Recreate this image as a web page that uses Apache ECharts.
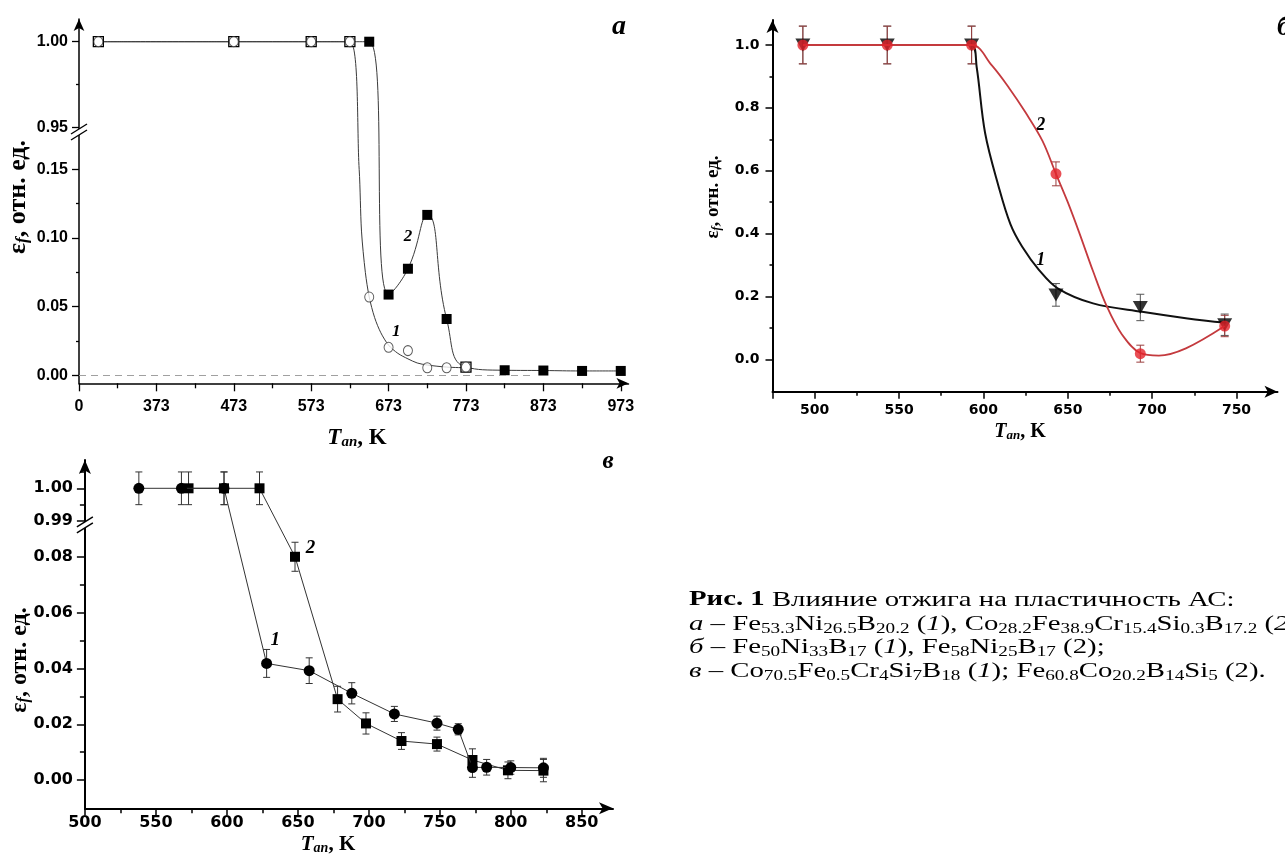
<!DOCTYPE html>
<html>
<head>
<meta charset="utf-8">
<script src="https://cdn.jsdelivr.net/npm/echarts@6.0.0/dist/echarts.min.js"></script>
<style>
html,body{margin:0;padding:0;background:#ffffff;overflow:hidden;}
#chart{width:1285px;height:854px;}
</style>
</head>
<body>
<div id="chart"></div>
<script>
// ---------------- Panel а ----------------
const aTemp1 = [298, 473, 573, 623, 648, 673, 698, 723, 748, 773];
const aVal1  = [1.00, 1.00, 1.00, 1.00, 0.057, 0.0204, 0.018, 0.0055, 0.0055, 0.006];
const aTemp2 = [298, 473, 573, 623, 648, 673, 698, 723, 748, 773, 823, 873, 923, 973];
const aVal2  = [1.00, 1.00, 1.00, 1.00, 1.00, 0.0588, 0.0776, 0.1168, 0.041, 0.006, 0.0037, 0.0035, 0.0032, 0.0032];
// fitted curve 1
const aFit1T = [298, 473, 573, 623, 635, 638, 643, 648, 655, 663, 673, 685, 698, 710, 723, 748, 773];
const aFit1V = [1.00, 1.00, 1.00, 1.00, 0.150, 0.105, 0.075, 0.057, 0.042, 0.031, 0.022, 0.016, 0.012, 0.009, 0.0075, 0.006, 0.0055];
const aXTicks = [273, 373, 473, 573, 673, 773, 873, 973];
const aXTickLabels = ['0', '373', '473', '573', '673', '773', '873', '973'];
const aXMinor = [323, 423, 523, 623, 723, 823, 923];
const aYTicks = [0, 0.05, 0.10, 0.15, 0.95, 1.00];
const aYMinor = [0.025, 0.075, 0.125, 0.975];

// ---------------- Panel б ----------------
const bTemp = [493, 543, 593, 643, 693, 743];
const bVal1 = [1.00, 1.00, 1.00, 0.205, 0.165, 0.110];
const bErr1 = [0.060, 0.060, 0.060, 0.036, 0.042, 0.034];
const bVal2 = [1.00, 1.00, 1.00, 0.590, 0.018, 0.106];
const bErr2 = [0.060, 0.060, 0.060, 0.038, 0.027, 0.034];
// fitted curves
const bFit1T = [493, 543, 593, 596, 601, 609, 616, 623, 633, 644, 665, 694, 721, 744];
const bFit1V = [1.00, 1.00, 1.00, 0.93, 0.72, 0.55, 0.43, 0.358, 0.284, 0.226, 0.178, 0.151, 0.130, 0.116];
const bFit2T = [493, 543, 593, 605, 615, 625, 635, 643, 650, 657, 665, 673, 682, 693, 704, 720, 743];
const bFit2V = [1.00, 1.00, 1.00, 0.935, 0.865, 0.785, 0.695, 0.590, 0.500, 0.400, 0.280, 0.170, 0.080, 0.020, 0.012, 0.035, 0.106];
const bXTicks = [475, 500, 550, 600, 650, 700, 750];
const bXLabels = [500, 550, 600, 650, 700, 750];
const bXMinor = [525, 575, 625, 675, 725];
const bYTicks = [0, 0.2, 0.4, 0.6, 0.8, 1.0];
const bYMinor = [0.1, 0.3, 0.5, 0.7, 0.9];

// ---------------- Panel в ----------------
const cTemp1 = [538, 568, 598, 628, 658, 688, 718, 748, 763, 773, 783, 800, 823];
const cVal1  = [1.00, 1.00, 1.00, 0.0418, 0.0392, 0.0311, 0.0237, 0.0204, 0.0182, 0.0045, 0.0046, 0.0045, 0.0044];
const cErr1  = [0.005, 0.005, 0.005, 0.0050, 0.0046, 0.0038, 0.0027, 0.0025, 0.0020, 0.0035, 0.0028, 0.0024, 0.0034];
const cTemp2 = [573, 598, 623, 648, 678, 698, 723, 748, 773, 798, 823];
const cVal2  = [1.00, 1.00, 1.00, 0.0800, 0.0290, 0.0203, 0.0140, 0.0129, 0.0072, 0.0035, 0.0034];
const cErr2  = [0.005, 0.005, 0.005, 0.0052, 0.0046, 0.0038, 0.0030, 0.0025, 0.0040, 0.0030, 0.0040];
const cXTicks = [500, 550, 600, 650, 700, 750, 800, 850];
const cXMinor = [525, 575, 625, 675, 725, 775, 825];
const cYTicks = [0, 0.02, 0.04, 0.06, 0.08, 0.99, 1.00];
const cYMinor = [0.01, 0.03, 0.05, 0.07, 0.995, 1.005];

// ---------------- Texts ----------------
const yTitleText = '{e|ε}{f|f}{n|, отн. ед.}';
const xTitleText = '{t|T}{s|an}{n|, K}';
const captionLines = [
  '{b|Рис. 1} Влияние отжига на пластичность АС:',
  '{i|а} – Fe{s|53.3}Ni{s|26.5}B{s|20.2} ({i|1}), Co{s|28.2}Fe{s|38.9}Cr{s|15.4}Si{s|0.3}B{s|17.2} ({i|2});',
  '{i|б} – Fe{s|50}Ni{s|33}B{s|17} ({i|1}), Fe{s|58}Ni{s|25}B{s|17} (2);',
  '{i|в} – Co{s|70.5}Fe{s|0.5}Cr{s|4}Si{s|7}B{s|18} ({i|1}); Fe{s|60.8}Co{s|20.2}B{s|14}Si{s|5} (2).'
];

// broken-axis mapping (lower part below lowTop, upper part above upBottom, upper scale stretched by ratio)
const breakA = {lowTop: 0.1735, upBottom: 0.9446, ratio: 1.2524};
const breakC = {lowTop: 0.0914, upBottom: 0.9888, ratio: 1.172};
function fwdOf(b) { return y => y <= b.lowTop ? y : (y >= b.upBottom ? b.lowTop + (y - b.upBottom) * b.ratio : b.lowTop); }
function invOf(b) { return v => v <= b.lowTop ? v : b.upBottom + (v - b.lowTop) / b.ratio; }
const fA = fwdOf(breakA), iA = invOf(breakA);
const fC = fwdOf(breakC), iC = invOf(breakC);
const idf = v => v;

const SANS_A = '"Liberation Sans Narrow", "Arial Narrow", "Liberation Sans", sans-serif';
const SANS = '"DejaVu Sans", sans-serif';
const SERIF = '"Liberation Serif", "Times New Roman", serif';

function axisPair(kind, gi, min, max, ticks, labels, minors, fmt, o) {
  const pos = kind === 'x' ? 'bottom' : 'left';
  const major = {
    type: 'value', gridIndex: gi, min: min, max: max, position: pos,
    axisLine: {show: true, onZero: false, symbol: ['none', 'arrow'], symbolSize: o.arrow,
               lineStyle: {color: '#000', width: o.lw}},
    axisTick: {show: true, customValues: ticks, length: o.tl, lineStyle: {color: '#000', width: o.tw}},
    axisLabel: {show: true, customValues: labels, formatter: fmt, margin: o.margin, color: '#000',
                fontFamily: o.ff, fontSize: o.fs, fontWeight: 'bold'},
    splitLine: {show: false}, minorTick: {show: false}, minorSplitLine: {show: false}
  };
  const minor = {
    type: 'value', gridIndex: gi, min: min, max: max, position: pos,
    axisLine: {show: false, onZero: false},
    axisTick: {show: true, customValues: minors, length: o.ml, lineStyle: {color: '#000', width: o.tw}},
    axisLabel: {show: false}, splitLine: {show: false}
  };
  return [major, minor];
}

function errSeries(xi, yi, temps, vals, errs, fwd, color, cap, z) {
  return {
    type: 'custom', xAxisIndex: xi, yAxisIndex: yi, z: z, clip: true, silent: true,
    data: temps.map((t, i) => [t, fwd(vals[i] + errs[i]), fwd(vals[i] - errs[i])]),
    encode: {x: 0, y: [1, 2]},
    renderItem: (params, api) => {
      const top = api.coord([api.value(0), api.value(1)]);
      const bot = api.coord([api.value(0), api.value(2)]);
      const w = cap / 2;
      const st = {stroke: color, lineWidth: 1};
      return {type: 'group', children: [
        {type: 'line', shape: {x1: top[0], y1: top[1], x2: bot[0], y2: bot[1]}, style: st},
        {type: 'line', shape: {x1: top[0] - w, y1: top[1], x2: top[0] + w, y2: top[1]}, style: st},
        {type: 'line', shape: {x1: bot[0] - w, y1: bot[1], x2: bot[0] + w, y2: bot[1]}, style: st}
      ]};
    }
  };
}

function curveLabel(coord, text, size) {
  return {
    symbol: 'circle', symbolSize: 1, itemStyle: {color: 'rgba(0,0,0,0)'},
    data: [{coord: coord, label: {show: true, position: 'inside', formatter: text, color: '#000',
            fontFamily: SERIF, fontStyle: 'italic', fontWeight: 'bold', fontSize: size}}]
  };
}

const xA = axisPair('x', 0, 273, 983, aXTicks, aXTicks, aXMinor,
  v => aXTickLabels[aXTicks.indexOf(v)],
  {arrow: [8, 12], lw: 1.5, tl: 8, ml: 5, tw: 1.3, margin: 15, ff: SANS_A, fs: 16});
const yA = axisPair('y', 0, -0.0058, fA(1.0132), aYTicks.map(fA), aYTicks.map(fA), aYMinor.map(fA),
  v => iA(v).toFixed(2),
  {arrow: [8, 12], lw: 1.5, tl: 7, ml: 3, tw: 1.3, margin: 11, ff: SANS_A, fs: 16});
const xB = axisPair('x', 1, 475, 774.3, bXTicks, bXLabels, bXMinor,
  v => String(v),
  {arrow: [9, 13], lw: 2, tl: 7, ml: 4, tw: 1.5, margin: 12, ff: SANS, fs: 14});
const yB = axisPair('y', 1, -0.103, 1.0795, bYTicks, bYTicks, bYMinor,
  v => v.toFixed(1),
  {arrow: [9, 13], lw: 2, tl: 7, ml: 3, tw: 1.5, margin: 13, ff: SANS, fs: 14});
const xC = axisPair('x', 2, 500, 872, cXTicks, cXTicks, cXMinor,
  v => String(v),
  {arrow: [9, 14], lw: 2, tl: 7, ml: 5, tw: 1.5, margin: 7, ff: SANS, fs: 16});
const yC = axisPair('y', 2, -0.0101, fC(1.00865), cYTicks.map(fC), cYTicks.map(fC), cYMinor.map(fC),
  v => iC(v).toFixed(2),
  {arrow: [9, 14], lw: 2, tl: 8, ml: 5, tw: 1.5, margin: 12, ff: SANS, fs: 16});

const aSeries2Data = aTemp2.map((t, i) => {
  const j = aTemp1.indexOf(t);
  const hollow = j >= 0 && aVal1[j] === aVal2[i];
  const v = [t, fA(aVal2[i])];
  return hollow ? {value: v, itemStyle: {color: '#fff', borderColor: '#000', borderWidth: 1.3}} : v;
});

const option = {
  animation: false,
  backgroundColor: '#ffffff',
  grid: [
    {left: 79, top: 19, width: 549.5, height: 364.3, outerBoundsMode: 'none', containLabel: false},
    {left: 772.5, top: 20, width: 505, height: 371.7, outerBoundsMode: 'none', containLabel: false},
    {left: 84.9, top: 460, width: 528.1, height: 348.3, outerBoundsMode: 'none', containLabel: false}
  ],
  xAxis: [].concat(xA, xB, xC),
  yAxis: [].concat(yA, yB, yC),
  series: [
    // ----- а -----
    {
      type: 'line', xAxisIndex: 0, yAxisIndex: 0, z: 3, silent: true,
      smooth: 0.5, symbol: 'rect', symbolSize: 10, showAllSymbol: true,
      lineStyle: {color: '#3a3a3a', width: 1}, itemStyle: {color: '#000'},
      data: aSeries2Data,
      markLine: {
        silent: true, symbol: ['none', 'none'], label: {show: false},
        lineStyle: {type: [7, 5], color: '#a0a0a0', width: 1},
        data: [[{coord: [273, 0]}, {coord: [856, 0]}]]
      },
      markPoint: curveLabel([698, fA(0.1007)], '2', 17)
    },
    {
      type: 'line', xAxisIndex: 0, yAxisIndex: 0, z: 3, silent: true,
      smooth: 0.3, symbol: 'none',
      lineStyle: {color: '#3a3a3a', width: 1},
      data: aFit1T.map((t, i) => [t, fA(aFit1V[i])]),
      markPoint: curveLabel([683, fA(0.0315)], '1', 17)
    },
    {
      type: 'scatter', xAxisIndex: 0, yAxisIndex: 0, z: 5, silent: true,
      symbol: 'circle', symbolSize: [9, 10],
      itemStyle: {color: '#fff', borderColor: '#333', borderWidth: 1},
      data: aTemp1.map((t, i) => [t, fA(aVal1[i])])
    },
    // ----- б -----
    errSeries(2, 2, bTemp, bVal1, bErr1, idf, '#555', 8, 2),
    errSeries(2, 2, bTemp, bVal2, bErr2, idf, '#9a3d3d', 8, 2),
    {
      type: 'line', xAxisIndex: 2, yAxisIndex: 2, z: 3, silent: true, smooth: 0.35, symbol: 'none',
      lineStyle: {color: '#111', width: 2},
      data: bFit1T.map((t, i) => [t, bFit1V[i]]),
      markPoint: curveLabel([634, 0.316], '1', 18)
    },
    {
      type: 'scatter', xAxisIndex: 2, yAxisIndex: 2, z: 4, silent: true,
      symbol: 'triangle', symbolRotate: 180, symbolSize: [15, 13], itemStyle: {color: '#000'},
      data: bTemp.map((t, i) => [t, bVal1[i]])
    },
    {
      type: 'line', xAxisIndex: 2, yAxisIndex: 2, z: 5, silent: true, smooth: 0.35, symbol: 'none',
      lineStyle: {color: '#c43a3e', width: 1.8},
      data: bFit2T.map((t, i) => [t, bFit2V[i]]),
      markPoint: curveLabel([634, 0.745], '2', 18)
    },
    {
      type: 'scatter', xAxisIndex: 2, yAxisIndex: 2, z: 6, silent: true,
      symbol: 'circle', symbolSize: 11, itemStyle: {color: '#e4232a'},
      data: bTemp.map((t, i) => [t, bVal2[i]])
    },
    // ----- в -----
    errSeries(4, 4, cTemp1, cVal1, cErr1, fC, '#333', 7, 2),
    errSeries(4, 4, cTemp2, cVal2, cErr2, fC, '#333', 7, 2),
    {
      type: 'line', xAxisIndex: 4, yAxisIndex: 4, z: 3, silent: true,
      symbol: 'rect', symbolSize: 10, showAllSymbol: true,
      lineStyle: {color: '#333', width: 1}, itemStyle: {color: '#000'},
      data: cTemp2.map((t, i) => [t, fC(cVal2[i])]),
      markPoint: curveLabel([659, fC(0.0832)], '2', 19)
    },
    {
      type: 'line', xAxisIndex: 4, yAxisIndex: 4, z: 4, silent: true,
      symbol: 'circle', symbolSize: 11, showAllSymbol: true,
      lineStyle: {color: '#333', width: 1}, itemStyle: {color: '#000'},
      data: cTemp1.map((t, i) => [t, fC(cVal1[i])]),
      markPoint: curveLabel([634, fC(0.0502)], '1', 19)
    }
  ]
};

const chart = echarts.init(document.getElementById('chart'), null, {renderer: 'canvas', width: 1285, height: 854});
chart.setOption(option);

function yTitleRich(fs) {
  return {
    e: {fontFamily: SERIF, fontWeight: 'bold', fontSize: fs, fill: '#000'},
    f: {fontFamily: SERIF, fontStyle: 'italic', fontWeight: 'bold', fontSize: Math.round(fs * 0.65),
        verticalAlign: 'bottom', lineHeight: Math.round(fs * 0.6), fill: '#000'},
    n: {fontFamily: SERIF, fontWeight: 'bold', fontSize: fs, fill: '#000'}
  };
}
function xTitleRich(fs) {
  return {
    t: {fontFamily: SERIF, fontStyle: 'italic', fontWeight: 'bold', fontSize: fs, fill: '#000'},
    s: {fontFamily: SERIF, fontStyle: 'italic', fontWeight: 'bold', fontSize: Math.round(fs * 0.65),
        verticalAlign: 'bottom', lineHeight: Math.round(fs * 0.6), fill: '#000'},
    n: {fontFamily: SERIF, fontWeight: 'bold', fontSize: fs, fill: '#000'}
  };
}
function yTitle(x, y, fs) {
  return {type: 'text', x: x, y: y, rotation: Math.PI / 2, z: 60,
          style: {text: yTitleText, align: 'center', verticalAlign: 'middle', rich: yTitleRich(fs)}};
}
function xTitle(x, y, fs) {
  return {type: 'text', x: x, y: y, z: 60,
          style: {text: xTitleText, align: 'center', verticalAlign: 'middle', rich: xTitleRich(fs)}};
}
function panelLetter(x, y, t, fs) {
  return {type: 'text', x: x, y: y, z: 60,
          style: {text: t, align: 'center', verticalAlign: 'middle', fill: '#000',
                  fontFamily: SERIF, fontStyle: 'italic', fontWeight: 'bold', fontSize: fs}};
}
const capRich = {
  b: {fontFamily: SERIF, fontWeight: 'bold', fontSize: 21, fill: '#000'},
  i: {fontFamily: SERIF, fontStyle: 'italic', fontSize: 21, fill: '#000'},
  s: {fontFamily: SERIF, fontSize: 14, verticalAlign: 'bottom', lineHeight: 12, fill: '#000'}
};
function capLine(y, t) {
  return {type: 'text', x: 689, y: y, scaleX: 1.37, z: 60,
          style: {text: t, align: 'left', verticalAlign: 'middle', fill: '#000',
                  fontFamily: SERIF, fontSize: 21, lineHeight: 24, rich: capRich}};
}
function breakMark(p) {
  const cx = p[0], cy = p[1], dx = 8, dy = 5, gap = 3;
  return [
    {type: 'rect', shape: {x: cx - 4, y: cy - gap, width: 8, height: 2 * gap}, style: {fill: '#fff'}, z: 50},
    {type: 'line', shape: {x1: cx - dx, y1: cy - gap + dy, x2: cx + dx, y2: cy - gap - dy},
     style: {stroke: '#000', lineWidth: 1.4}, z: 51},
    {type: 'line', shape: {x1: cx - dx, y1: cy + gap + dy, x2: cx + dx, y2: cy + gap - dy},
     style: {stroke: '#000', lineWidth: 1.4}, z: 51}
  ];
}
const pBreakA = chart.convertToPixel({xAxisIndex: 0, yAxisIndex: 0}, [273, breakA.lowTop]);
const pBreakC = chart.convertToPixel({xAxisIndex: 4, yAxisIndex: 4}, [500, breakC.lowTop]);

const graphics = [].concat(
  breakMark([pBreakA[0], pBreakA[1] - 5]),
  breakMark([pBreakC[0], pBreakC[1]]),
  [
    yTitle(18, 197, 26),
    yTitle(713, 197, 19),
    yTitle(20, 660, 24),
    xTitle(357, 438, 23),
    xTitle(1020, 432, 20),
    xTitle(328, 845, 21),
    panelLetter(619, 27, 'а', 28),
    panelLetter(1284, 28, 'б', 28),
    panelLetter(608, 462, 'в', 25),
    capLine(600, captionLines[0]),
    capLine(624, captionLines[1]),
    capLine(647.5, captionLines[2]),
    capLine(671, captionLines[3])
  ]
);
chart.setOption({graphic: graphics});
</script>
</body>
</html>
